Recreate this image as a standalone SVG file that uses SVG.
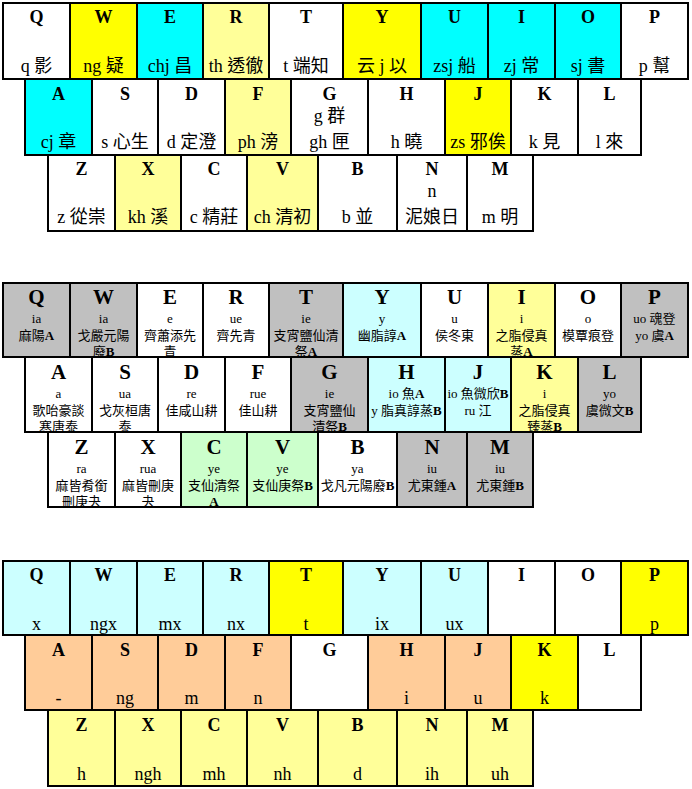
<svg xmlns="http://www.w3.org/2000/svg" width="692" height="789" viewBox="0 0 692 789">
<style>
rect{stroke:#000;stroke-width:2}
.w{fill:#fff}.y{fill:#ffff00}.c{fill:#00ffff}.ly{fill:#ffff99}.g{fill:#c0c0c0}.lc{fill:#ccffff}.lg{fill:#ccffcc}.p{fill:#ffcc99}
text{text-anchor:middle;fill:#000}
.L{font:bold 18px "Liberation Serif",serif}
.t{font-size:18px;font-family:"Liberation Serif","Noto Sans CJK TC",serif}
.L2{font:bold 21px "Liberation Serif",serif}
.r{font-size:13px;font-family:"Liberation Serif","Noto Sans CJK TC",serif}
.h{font-size:13px;font-family:"Liberation Serif","Noto Sans CJK TC",sans-serif}
.b{font-weight:bold;font-family:"Liberation Serif",serif}
</style>
<rect x="0" y="0" width="692" height="789" style="fill:#fff;stroke:none"/>
<!-- Keyboard 1 -->
<g id="kb1">
<g id="k1-Q"><rect class="w" x="3" y="3" width="67" height="76"/><text class="L" x="36.5" y="23">Q</text><text class="t" x="36.5" y="72">q 影</text></g>
<g id="k1-W"><rect class="y" x="70" y="3" width="67" height="76"/><text class="L" x="103.5" y="23">W</text><text class="t" x="103.5" y="72">ng 疑</text></g>
<g id="k1-E"><rect class="c" x="137" y="3" width="66" height="76"/><text class="L" x="170" y="23">E</text><text class="t" x="170" y="72">chj 昌</text></g>
<g id="k1-R"><rect class="ly" x="203" y="3" width="66" height="76"/><text class="L" x="236" y="23">R</text><text class="t" x="236" y="72">th 透徹</text></g>
<g id="k1-T"><rect class="w" x="269" y="3" width="74" height="76"/><text class="L" x="306" y="23">T</text><text class="t" x="306" y="72">t 端知</text></g>
<g id="k1-Y"><rect class="y" x="343" y="3" width="78" height="76"/><text class="L" x="382" y="23">Y</text><text class="t" x="382" y="72">云 j 以</text></g>
<g id="k1-U"><rect class="c" x="421" y="3" width="67" height="76"/><text class="L" x="454.5" y="23">U</text><text class="t" x="454.5" y="72">zsj 船</text></g>
<g id="k1-I"><rect class="c" x="488" y="3" width="67" height="76"/><text class="L" x="521.5" y="23">I</text><text class="t" x="521.5" y="72">zj 常</text></g>
<g id="k1-O"><rect class="c" x="555" y="3" width="66" height="76"/><text class="L" x="588" y="23">O</text><text class="t" x="588" y="72">sj 書</text></g>
<g id="k1-P"><rect class="w" x="621" y="3" width="67" height="76"/><text class="L" x="654.5" y="23">P</text><text class="t" x="654.5" y="72">p 幫</text></g>

<g id="k1-A"><rect class="c" x="25" y="79" width="67" height="76"/><text class="L" x="58.5" y="100">A</text><text class="t" x="58.5" y="148">cj 章</text></g>
<g id="k1-S"><rect class="w" x="92" y="79" width="66" height="76"/><text class="L" x="125" y="100">S</text><text class="t" x="125" y="148">s 心生</text></g>
<g id="k1-D"><rect class="w" x="158" y="79" width="67" height="76"/><text class="L" x="191.5" y="100">D</text><text class="t" x="191.5" y="148">d 定澄</text></g>
<g id="k1-F"><rect class="ly" x="225" y="79" width="66" height="76"/><text class="L" x="258" y="100">F</text><text class="t" x="258" y="148">ph 滂</text></g>
<g id="k1-G"><rect class="w" x="291" y="79" width="77" height="76"/><text class="L" x="329.5" y="100">G</text><text class="t" x="329.5" y="122">g 群</text><text class="t" x="329.5" y="148">gh 匣</text></g>
<g id="k1-H"><rect class="w" x="368" y="79" width="77" height="76"/><text class="L" x="406.5" y="100">H</text><text class="t" x="406.5" y="148">h 曉</text></g>
<g id="k1-J"><rect class="y" x="445" y="79" width="66" height="76"/><text class="L" x="478" y="100">J</text><text class="t" x="478" y="148">zs 邪俟</text></g>
<g id="k1-K"><rect class="w" x="511" y="79" width="67" height="76"/><text class="L" x="544.5" y="100">K</text><text class="t" x="544.5" y="148">k 見</text></g>
<g id="k1-L"><rect class="w" x="578" y="79" width="63" height="76"/><text class="L" x="609.5" y="100">L</text><text class="t" x="609.5" y="148">l 來</text></g>

<g id="k1-Z"><rect class="w" x="48" y="155" width="67" height="76"/><text class="L" x="81.5" y="175">Z</text><text class="t" x="81.5" y="223">z 從崇</text></g>
<g id="k1-X"><rect class="ly" x="115" y="155" width="66" height="76"/><text class="L" x="148" y="175">X</text><text class="t" x="148" y="223">kh 溪</text></g>
<g id="k1-C"><rect class="w" x="181" y="155" width="66" height="76"/><text class="L" x="214" y="175">C</text><text class="t" x="214" y="223">c 精莊</text></g>
<g id="k1-V"><rect class="ly" x="247" y="155" width="71" height="76"/><text class="L" x="282.5" y="175">V</text><text class="t" x="282.5" y="223">ch 清初</text></g>
<g id="k1-B"><rect class="w" x="318" y="155" width="79" height="76"/><text class="L" x="357.5" y="175">B</text><text class="t" x="357.5" y="223">b 並</text></g>
<g id="k1-N"><rect class="w" x="397" y="155" width="70" height="76"/><text class="L" x="432" y="175">N</text><text class="t" x="432" y="197">n</text><text class="t" x="432" y="223">泥娘日</text></g>
<g id="k1-M"><rect class="w" x="467" y="155" width="66" height="76"/><text class="L" x="500" y="175">M</text><text class="t" x="500" y="223">m 明</text></g>
</g>

<!-- Keyboard 2 -->
<g id="kb2">
<g id="k2-Q"><rect class="g" x="3" y="283" width="67" height="74"/><text class="L2" x="36.5" y="304">Q</text><text class="r" x="36.5" y="323">ia</text><text class="h" x="36.5" y="340">麻陽<tspan class="b">A</tspan></text></g>
<g id="k2-W"><rect class="g" x="70" y="283" width="67" height="74"/><text class="L2" x="103.5" y="304">W</text><text class="r" x="103.5" y="323">ia</text><text class="h" x="103.5" y="340">戈嚴元陽</text><text class="h" x="103.5" y="356">廢<tspan class="b">B</tspan></text></g>
<g id="k2-E"><rect class="w" x="137" y="283" width="66" height="74"/><text class="L2" x="170" y="304">E</text><text class="r" x="170" y="323">e</text><text class="h" x="170" y="340">齊蕭添先</text><text class="h" x="170" y="356">青</text></g>
<g id="k2-R"><rect class="w" x="203" y="283" width="66" height="74"/><text class="L2" x="236" y="304">R</text><text class="r" x="236" y="323">ue</text><text class="h" x="236" y="340">齊先青</text></g>
<g id="k2-T"><rect class="g" x="269" y="283" width="74" height="74"/><text class="L2" x="306" y="304">T</text><text class="r" x="306" y="323">ie</text><text class="h" x="306" y="340">支宵鹽仙清</text><text class="h" x="306" y="356">祭<tspan class="b">A</tspan></text></g>
<g id="k2-Y"><rect class="lc" x="343" y="283" width="78" height="74"/><text class="L2" x="382" y="304">Y</text><text class="r" x="382" y="323">y</text><text class="h" x="382" y="340">幽脂諄<tspan class="b">A</tspan></text></g>
<g id="k2-U"><rect class="w" x="421" y="283" width="67" height="74"/><text class="L2" x="454.5" y="304">U</text><text class="r" x="454.5" y="323">u</text><text class="h" x="454.5" y="340">侯冬東</text></g>
<g id="k2-I"><rect class="ly" x="488" y="283" width="67" height="74"/><text class="L2" x="521.5" y="304">I</text><text class="r" x="521.5" y="323">i</text><text class="h" x="521.5" y="340">之脂侵真</text><text class="h" x="521.5" y="356">蒸<tspan class="b">A</tspan></text></g>
<g id="k2-O"><rect class="w" x="555" y="283" width="66" height="74"/><text class="L2" x="588" y="304">O</text><text class="r" x="588" y="323">o</text><text class="h" x="588" y="340">模覃痕登</text></g>
<g id="k2-P"><rect class="g" x="621" y="283" width="67" height="74"/><text class="L2" x="654.5" y="304">P</text><text class="h" x="654.5" y="323">uo 魂登</text><text class="h" x="654.5" y="340">yo 虞<tspan class="b">A</tspan></text></g>

<g id="k2-A"><rect class="w" x="25" y="357" width="67" height="75"/><text class="L2" x="58.5" y="379">A</text><text class="r" x="58.5" y="398">a</text><text class="h" x="58.5" y="415">歌咍豪談</text><text class="h" x="58.5" y="431">寒唐泰</text></g>
<g id="k2-S"><rect class="w" x="92" y="357" width="66" height="75"/><text class="L2" x="125" y="379">S</text><text class="r" x="125" y="398">ua</text><text class="h" x="125" y="415">戈灰桓唐</text><text class="h" x="125" y="431">泰</text></g>
<g id="k2-D"><rect class="w" x="158" y="357" width="67" height="75"/><text class="L2" x="191.5" y="379">D</text><text class="r" x="191.5" y="398">re</text><text class="h" x="191.5" y="415">佳咸山耕</text></g>
<g id="k2-F"><rect class="w" x="225" y="357" width="66" height="75"/><text class="L2" x="258" y="379">F</text><text class="r" x="258" y="398">rue</text><text class="h" x="258" y="415">佳山耕</text></g>
<g id="k2-G"><rect class="g" x="291" y="357" width="77" height="75"/><text class="L2" x="329.5" y="379">G</text><text class="r" x="329.5" y="398">ie</text><text class="h" x="329.5" y="415">支宵鹽仙</text><text class="h" x="329.5" y="431">清祭<tspan class="b">B</tspan></text></g>
<g id="k2-H"><rect class="lc" x="368" y="357" width="77" height="75"/><text class="L2" x="406.5" y="379">H</text><text class="h" x="406.5" y="398">io 魚<tspan class="b">A</tspan></text><text class="h" x="406.5" y="415">y 脂真諄蒸<tspan class="b">B</tspan></text></g>
<g id="k2-J"><rect class="lc" x="445" y="357" width="66" height="75"/><text class="L2" x="478" y="379">J</text><text class="h" x="478" y="398">io 魚微欣<tspan class="b">B</tspan></text><text class="h" x="478" y="415">ru 江</text></g>
<g id="k2-K"><rect class="ly" x="511" y="357" width="67" height="75"/><text class="L2" x="544.5" y="379">K</text><text class="r" x="544.5" y="398">i</text><text class="h" x="544.5" y="415">之脂侵真</text><text class="h" x="544.5" y="431">臻蒸<tspan class="b">B</tspan></text></g>
<g id="k2-L"><rect class="g" x="578" y="357" width="63" height="75"/><text class="L2" x="609.5" y="379">L</text><text class="r" x="609.5" y="398">yo</text><text class="h" x="609.5" y="415">虞微文<tspan class="b">B</tspan></text></g>

<g id="k2-Z"><rect class="w" x="48" y="432" width="67" height="75"/><text class="L2" x="81.5" y="454">Z</text><text class="r" x="81.5" y="473">ra</text><text class="h" x="81.5" y="490">麻皆肴銜</text><text class="h" x="81.5" y="506">刪庚夬</text></g>
<g id="k2-X"><rect class="w" x="115" y="432" width="66" height="75"/><text class="L2" x="148" y="454">X</text><text class="r" x="148" y="473">rua</text><text class="h" x="148" y="490">麻皆刪庚</text><text class="h" x="148" y="506">夬</text></g>
<g id="k2-C"><rect class="lg" x="181" y="432" width="66" height="75"/><text class="L2" x="214" y="454">C</text><text class="r" x="214" y="473">ye</text><text class="h" x="214" y="490">支仙清祭</text><text class="h" x="214" y="506"><tspan class="b">A</tspan></text></g>
<g id="k2-V"><rect class="lg" x="247" y="432" width="71" height="75"/><text class="L2" x="282.5" y="454">V</text><text class="r" x="282.5" y="473">ye</text><text class="h" x="282.5" y="490">支仙庚祭<tspan class="b">B</tspan></text></g>
<g id="k2-B"><rect class="w" x="318" y="432" width="79" height="75"/><text class="L2" x="357.5" y="454">B</text><text class="r" x="357.5" y="473">ya</text><text class="h" x="357.5" y="490">戈凡元陽廢<tspan class="b">B</tspan></text></g>
<g id="k2-N"><rect class="g" x="397" y="432" width="70" height="75"/><text class="L2" x="432" y="454">N</text><text class="r" x="432" y="473">iu</text><text class="h" x="432" y="490">尤東鍾<tspan class="b">A</tspan></text></g>
<g id="k2-M"><rect class="g" x="467" y="432" width="66" height="75"/><text class="L2" x="500" y="454">M</text><text class="r" x="500" y="473">iu</text><text class="h" x="500" y="490">尤東鍾<tspan class="b">B</tspan></text></g>
</g>

<!-- Keyboard 3 -->
<g id="kb3">
<g id="k3-Q"><rect class="lc" x="3" y="561" width="67" height="74"/><text class="L" x="36.5" y="581">Q</text><text class="t" x="36.5" y="630">x</text></g>
<g id="k3-W"><rect class="lc" x="70" y="561" width="67" height="74"/><text class="L" x="103.5" y="581">W</text><text class="t" x="103.5" y="630">ngx</text></g>
<g id="k3-E"><rect class="lc" x="137" y="561" width="66" height="74"/><text class="L" x="170" y="581">E</text><text class="t" x="170" y="630">mx</text></g>
<g id="k3-R"><rect class="lc" x="203" y="561" width="66" height="74"/><text class="L" x="236" y="581">R</text><text class="t" x="236" y="630">nx</text></g>
<g id="k3-T"><rect class="y" x="269" y="561" width="74" height="74"/><text class="L" x="306" y="581">T</text><text class="t" x="306" y="630">t</text></g>
<g id="k3-Y"><rect class="lc" x="343" y="561" width="78" height="74"/><text class="L" x="382" y="581">Y</text><text class="t" x="382" y="630">ix</text></g>
<g id="k3-U"><rect class="lc" x="421" y="561" width="67" height="74"/><text class="L" x="454.5" y="581">U</text><text class="t" x="454.5" y="630">ux</text></g>
<g id="k3-I"><rect class="w" x="488" y="561" width="67" height="74"/><text class="L" x="521.5" y="581">I</text></g>
<g id="k3-O"><rect class="w" x="555" y="561" width="66" height="74"/><text class="L" x="588" y="581">O</text></g>
<g id="k3-P"><rect class="y" x="621" y="561" width="67" height="74"/><text class="L" x="654.5" y="581">P</text><text class="t" x="654.5" y="630">p</text></g>

<g id="k3-A"><rect class="p" x="25" y="635" width="67" height="75"/><text class="L" x="58.5" y="656">A</text><text class="t" x="58.5" y="704">-</text></g>
<g id="k3-S"><rect class="p" x="92" y="635" width="66" height="75"/><text class="L" x="125" y="656">S</text><text class="t" x="125" y="704">ng</text></g>
<g id="k3-D"><rect class="p" x="158" y="635" width="67" height="75"/><text class="L" x="191.5" y="656">D</text><text class="t" x="191.5" y="704">m</text></g>
<g id="k3-F"><rect class="p" x="225" y="635" width="66" height="75"/><text class="L" x="258" y="656">F</text><text class="t" x="258" y="704">n</text></g>
<g id="k3-G"><rect class="w" x="291" y="635" width="77" height="75"/><text class="L" x="329.5" y="656">G</text></g>
<g id="k3-H"><rect class="p" x="368" y="635" width="77" height="75"/><text class="L" x="406.5" y="656">H</text><text class="t" x="406.5" y="704">i</text></g>
<g id="k3-J"><rect class="p" x="445" y="635" width="66" height="75"/><text class="L" x="478" y="656">J</text><text class="t" x="478" y="704">u</text></g>
<g id="k3-K"><rect class="y" x="511" y="635" width="67" height="75"/><text class="L" x="544.5" y="656">K</text><text class="t" x="544.5" y="704">k</text></g>
<g id="k3-L"><rect class="w" x="578" y="635" width="63" height="75"/><text class="L" x="609.5" y="656">L</text></g>

<g id="k3-Z"><rect class="ly" x="48" y="710" width="67" height="76"/><text class="L" x="81.5" y="731">Z</text><text class="t" x="81.5" y="780">h</text></g>
<g id="k3-X"><rect class="ly" x="115" y="710" width="66" height="76"/><text class="L" x="148" y="731">X</text><text class="t" x="148" y="780">ngh</text></g>
<g id="k3-C"><rect class="ly" x="181" y="710" width="66" height="76"/><text class="L" x="214" y="731">C</text><text class="t" x="214" y="780">mh</text></g>
<g id="k3-V"><rect class="ly" x="247" y="710" width="71" height="76"/><text class="L" x="282.5" y="731">V</text><text class="t" x="282.5" y="780">nh</text></g>
<g id="k3-B"><rect class="ly" x="318" y="710" width="79" height="76"/><text class="L" x="357.5" y="731">B</text><text class="t" x="357.5" y="780">d</text></g>
<g id="k3-N"><rect class="ly" x="397" y="710" width="70" height="76"/><text class="L" x="432" y="731">N</text><text class="t" x="432" y="780">ih</text></g>
<g id="k3-M"><rect class="ly" x="467" y="710" width="66" height="76"/><text class="L" x="500" y="731">M</text><text class="t" x="500" y="780">uh</text></g>
</g>
<g id="connectors"></g>
</svg>
